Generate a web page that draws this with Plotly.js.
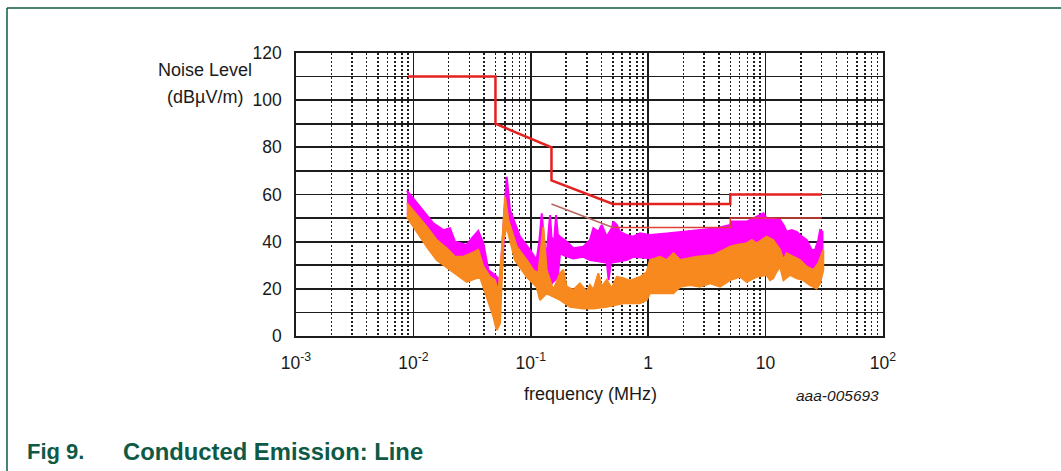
<!DOCTYPE html>
<html>
<head>
<meta charset="utf-8">
<script src="https://cdn.plot.ly/plotly-3.0.1.min.js"></script>
<style>
html,body{margin:0;padding:0;background:#fff;}
#chart{width:1061px;height:471px;}
</style>
</head>
<body>
<div id="chart"></div>
<script>
// ---- Axis ticks ----
const xTickVals = [0.001, 0.01, 0.1, 1, 10, 100];
const xTickText = ["10<sup>-3</sup>", "10<sup>-2</sup>", "10<sup>-1</sup>", "1", "10", "10<sup>2</sup>"];
const yTickVals = [0, 20, 40, 60, 80, 100, 120];
const yTickText = ["0", "20", "40", "60", "80", "100", "120"];

// ---- Limit lines (MHz, dBµV/m) ----
const upperLimitF  = [0.009, 0.05, 0.05, 0.15, 0.15, 0.5, 5, 5, 30];
const upperLimitDb = [110, 110, 90, 80, 66, 56, 56, 60, 60];
const lowerSlopeF  = [0.15, 0.5];
const lowerSlopeDb = [56, 46];
const lowerFlatF   = [0.5, 5, 5, 30];
const lowerFlatDb  = [46, 46, 50, 50];

// ---- Peak emission band (magenta) ----
const magUpperF  = [0.0088, 0.0107, 0.0130, 0.0148, 0.0180, 0.0205, 0.0226, 0.0284, 0.0314, 0.0357, 0.0394, 0.0435, 0.0495, 0.0547, 0.0565, 0.0624, 0.0665, 0.0809, 0.0984, 0.112, 0.118, 0.124, 0.130, 0.1364, 0.142, 0.146, 0.150, 0.158, 0.164, 0.170, 0.1775, 0.195, 0.216, 0.230, 0.280, 0.319, 0.341, 0.376, 0.402, 0.443, 0.489, 0.505, 0.540, 0.575, 0.656, 0.746, 0.851, 1.035, 1.44, 1.99, 2.76, 3.83, 4.98, 5.14, 6.90, 8.96, 9.57, 10.2, 13.3, 14.2, 15.1, 16.7, 18.4, 19.6, 22.4, 24.7, 26.4, 28.1, 29.1, 30.5];
const magUpperDb = [61.6, 56.3, 51.3, 47.8, 44.9, 45.7, 40.0, 38.6, 41.4, 44.6, 39.3, 28.0, 25.9, 23.7, 35.0, 67.5, 53.4, 42.1, 36.5, 32.2, 40.0, 52.0, 40.0, 33.6, 45.0, 51.3, 42.0, 40.0, 51.3, 43.0, 42.1, 40.7, 38.6, 37.2, 37.9, 40.7, 45.7, 44.2, 47.1, 42.1, 45.7, 48.5, 47.1, 44.2, 42.8, 42.1, 43.5, 42.8, 43.5, 44.2, 44.9, 45.7, 47.1, 48.5, 48.5, 51.3, 52.0, 49.9, 49.2, 47.1, 44.2, 44.9, 44.2, 42.8, 40.7, 36.5, 36.5, 40.7, 44.9, 44.2];
const magLowerF  = [0.0088, 0.0107, 0.0130, 0.0158, 0.0192, 0.0226, 0.0266, 0.0314, 0.0357, 0.0394, 0.0449, 0.0495, 0.0528, 0.0565, 0.0603, 0.0643, 0.0759, 0.0923, 0.105, 0.116, 0.1364, 0.150, 0.170, 0.1775, 0.195, 0.230, 0.280, 0.319, 0.402, 0.445, 0.460, 0.480, 0.540, 0.656, 0.746, 1.035, 1.44, 2.0, 3.0, 5.0, 7.0, 10.0, 13.0, 16.0, 20.0, 25.0, 28.0, 30.5];
const magLowerDb = [52, 48, 43, 37, 34, 31, 31, 32, 33, 27, 22, 18, 12, 25, 50, 45, 35, 29, 25, 22, 20, 22, 25, 35.1, 34.0, 32.9, 33.6, 32.2, 31.5, 31.0, 23.7, 31.0, 31.5, 32.2, 33.6, 33.0, 32, 32, 33, 34, 36, 36, 33, 30, 28, 26, 26, 32];

// ---- Average emission band (orange) ----
const orgUpperF  = [0.0088, 0.0107, 0.0130, 0.0158, 0.0192, 0.0226, 0.0266, 0.0314, 0.0357, 0.0394, 0.0449, 0.0495, 0.0528, 0.0565, 0.0603, 0.0643, 0.0759, 0.0923, 0.105, 0.116, 0.1276, 0.1364, 0.1556, 0.1775, 0.189, 0.202, 0.230, 0.262, 0.299, 0.319, 0.341, 0.376, 0.402, 0.443, 0.489, 0.540, 0.614, 0.700, 0.851, 0.970, 1.035, 1.26, 1.44, 1.64, 1.87, 2.59, 3.59, 4.98, 5.67, 6.90, 7.61, 8.39, 10.2, 11.6, 13.3, 14.2, 15.1, 17.2, 19.6, 22.4, 25.5, 28.1, 31.0];
const orgUpperDb = [56.3, 51.3, 46.3, 40.7, 37.2, 33.6, 33.6, 35.1, 36.5, 29.4, 25.1, 23.7, 18.1, 35.1, 59.1, 49.2, 37.9, 32.2, 28.0, 26.6, 46.3, 28.0, 19.5, 26.6, 28.0, 20.9, 19.5, 22.3, 18.8, 21.6, 19.5, 26.6, 20.9, 23.7, 20.2, 25.1, 24.5, 23.5, 25.0, 27.0, 32.2, 33.6, 32.2, 35.1, 32.2, 33.6, 34.3, 37.9, 38.6, 39.3, 40.7, 39.3, 42.1, 40.7, 36.5, 32.2, 35.1, 33.6, 32.2, 29.4, 28.0, 30.8, 36.5];
const orgLowerF  = [0.0088, 0.0107, 0.0130, 0.0158, 0.0192, 0.0226, 0.0284, 0.0369, 0.0421, 0.048, 0.0512, 0.0547, 0.0565, 0.0584, 0.0624, 0.0733, 0.0923, 0.112, 0.1197, 0.1364, 0.1775, 0.216, 0.280, 0.341, 0.443, 0.614, 0.851, 0.970, 1.035, 1.26, 1.64, 1.87, 2.27, 2.76, 3.36, 4.09, 4.98, 6.05, 6.90, 8.39, 10.2, 10.9, 11.6, 12.4, 13.3, 14.2, 16.1, 18.4, 20.9, 23.9, 27.2, 29.1, 31.0];
const orgLowerDb = [50.6, 44.2, 37.9, 32.2, 29.4, 26.6, 23.0, 25.1, 16.7, 8.2, 2.5, 5.4, 18.1, 40.7, 46.3, 32.2, 25.1, 20.9, 15.3, 18.1, 15.3, 12.4, 11.7, 11.7, 12.4, 13.9, 13.9, 15.3, 18.1, 18.1, 18.1, 20.9, 21.6, 20.9, 22.3, 20.9, 23.7, 25.1, 23.0, 25.1, 25.9, 23.7, 24.5, 27.3, 29.4, 23.7, 25.9, 24.5, 23.7, 21.6, 20.2, 22.3, 28.0];

// ---- Text ----
const yTitleLines = ["Noise Level", "(dBµV/m)"];
const xTitleText = "frequency (MHz)";
const figCode = "aaa-005693";
const captionNum = "Fig 9.";
const captionText = "Conducted Emission: Line";

function band(uf, ud, lf, ld) {
  return {
    x: uf.concat(lf.slice().reverse()),
    y: ud.concat(ld.slice().reverse())
  };
}

const MAG = '#ff00ff';
const ORG = '#f7891f';
const mag = band(magUpperF, magUpperDb, magLowerF, magLowerDb);
const org = band(orgUpperF, orgUpperDb, orgLowerF, orgLowerDb);

const traces = [
  {x: mag.x, y: mag.y, type: 'scatter', mode: 'lines', fill: 'toself', fillcolor: MAG,
   line: {color: MAG, width: 2}, hoverinfo: 'skip', showlegend: false},
  {x: org.x, y: org.y, type: 'scatter', mode: 'lines', fill: 'toself', fillcolor: ORG,
   line: {color: ORG, width: 2}, hoverinfo: 'skip', showlegend: false},
  {x: lowerSlopeF, y: lowerSlopeDb, type: 'scatter', mode: 'lines',
   line: {color: '#b8675f', width: 1.5}, hoverinfo: 'skip', showlegend: false},
  {x: lowerFlatF, y: lowerFlatDb, type: 'scatter', mode: 'lines',
   line: {color: '#e0403a', width: 1.5}, hoverinfo: 'skip', showlegend: false},
  {x: upperLimitF, y: upperLimitDb, type: 'scatter', mode: 'lines',
   line: {color: '#e3211f', width: 2.5}, hoverinfo: 'skip', showlegend: false}
];

const L = 296, R = 883, T = 53, B = 336;
const W = 1061, H = 471;
const px = v => (v - L) / (R - L);
const py = v => (B - v) / (B - T);

const FONT = 'Liberation Sans, Arial, Helvetica, sans-serif';
const GREEN = '#0e5a46';
const INK = '#1a1a1a';

const layout = {
  width: W, height: H,
  margin: {l: L, r: W - R, t: T, b: H - B, pad: 0},
  paper_bgcolor: '#ffffff', plot_bgcolor: '#ffffff',
  font: {family: FONT, size: 17, color: INK},
  showlegend: false,
  xaxis: {
    type: 'log', range: [-3, 2],
    tickmode: 'array', tickvals: xTickVals, ticktext: xTickText,
    ticks: '', ticklabelstandoff: 10,
    showgrid: true, gridcolor: '#1c1c1c', gridwidth: 1.8,
    showline: true, mirror: true, linecolor: '#1c1c1c', linewidth: 1.8,
    zeroline: false,
    minor: {dtick: 'D1', showgrid: true, gridcolor: '#1e1e1e', gridwidth: 1.5, griddash: '2px,2px', ticks: ''},
    tickfont: {family: FONT, size: 17.5, color: INK}
  },
  yaxis: {
    range: [0, 120],
    tickmode: 'array', tickvals: yTickVals, ticktext: yTickText,
    ticks: '', ticklabelstandoff: 9,
    showgrid: true, gridcolor: '#1c1c1c', gridwidth: 1.8,
    showline: true, mirror: true, linecolor: '#1c1c1c', linewidth: 1.8,
    zeroline: false,
    minor: {dtick: 10, showgrid: true, gridcolor: '#1c1c1c', gridwidth: 1.8, ticks: ''},
    tickfont: {family: FONT, size: 17.5, color: INK}
  },
  shapes: [
    {type: 'line', xref: 'paper', yref: 'paper', x0: px(7), x1: px(1061), y0: py(8), y1: py(8),
     line: {color: GREEN, width: 1.5}},
    {type: 'line', xref: 'paper', yref: 'paper', x0: px(7), x1: px(7), y0: py(8), y1: py(471),
     line: {color: GREEN, width: 1.5}}
  ],
  annotations: [
    {text: yTitleLines[0], xref: 'paper', yref: 'paper', x: px(205), y: py(70),
     xanchor: 'center', yanchor: 'middle', showarrow: false,
     font: {family: FONT, size: 18, color: INK}},
    {text: yTitleLines[1], xref: 'paper', yref: 'paper', x: px(205), y: py(97),
     xanchor: 'center', yanchor: 'middle', showarrow: false,
     font: {family: FONT, size: 18, color: INK}},
    {text: xTitleText, xref: 'paper', yref: 'paper', x: px(590), y: py(394),
     xanchor: 'center', yanchor: 'middle', showarrow: false,
     font: {family: FONT, size: 18, color: INK}},
    {text: '<i>' + figCode + '</i>', xref: 'paper', yref: 'paper', x: px(837), y: py(395),
     xanchor: 'center', yanchor: 'middle', showarrow: false,
     font: {family: FONT, size: 15.5, color: INK}},
    {text: '<b>' + captionNum + '</b>', xref: 'paper', yref: 'paper', x: px(25), y: py(451),
     xanchor: 'left', yanchor: 'middle', showarrow: false,
     font: {family: FONT, size: 22, color: GREEN}},
    {text: '<b>' + captionText + '</b>', xref: 'paper', yref: 'paper', x: px(121), y: py(451),
     xanchor: 'left', yanchor: 'middle', showarrow: false,
     font: {family: FONT, size: 23.8, color: GREEN}}
  ]
};

Plotly.newPlot('chart', traces, layout, {staticPlot: true, displayModeBar: false});
</script>
</body>
</html>
